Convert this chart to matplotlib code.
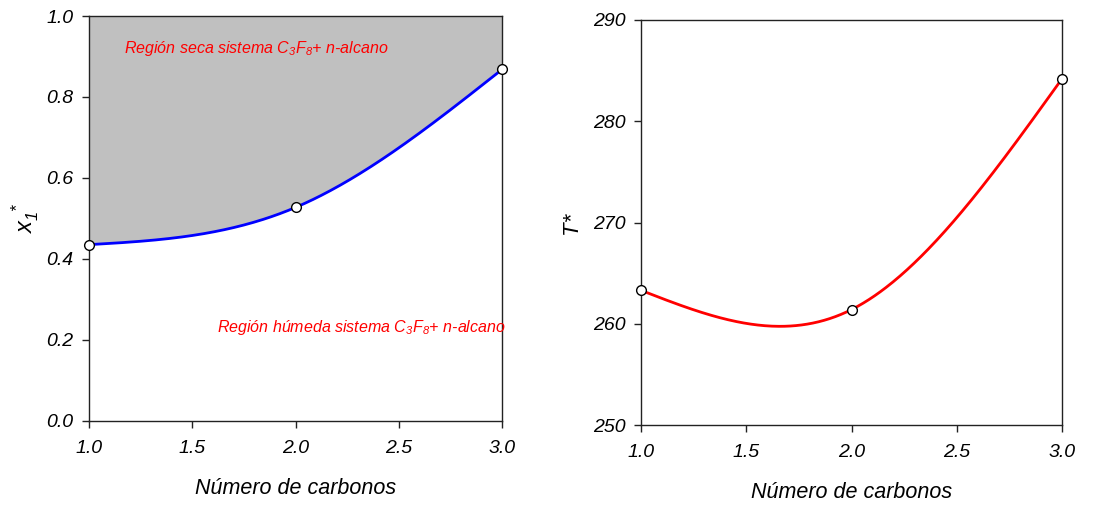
import numpy as np
import matplotlib
matplotlib.use("Agg")
import matplotlib.pyplot as plt

plt.rcParams['font.family'] = ['Liberation Sans', 'DejaVu Sans']
plt.rcParams['mathtext.fontset'] = 'custom'
plt.rcParams['mathtext.rm'] = 'Liberation Sans:italic'
plt.rcParams['mathtext.it'] = 'Liberation Sans:italic'
plt.rcParams['mathtext.bf'] = 'Liberation Sans:italic:bold'

# Data
carbonos = [1.0, 2.0, 3.0]
x1_star = [0.435, 0.527, 0.868]
T_star = [263.3, 261.4, 284.2]
x_ticks = [1.0, 1.5, 2.0, 2.5, 3.0]
x1_ticks = [0.0, 0.2, 0.4, 0.6, 0.8, 1.0]
T_ticks = [250, 260, 270, 280, 290]


def natural_spline(x, y, n=300):
    """Natural cubic spline through the given points, evaluated on a fine grid."""
    x = np.asarray(x, float)
    y = np.asarray(y, float)
    k = len(x)
    h = np.diff(x)
    A = np.zeros((k, k))
    b = np.zeros(k)
    A[0, 0] = A[-1, -1] = 1.0
    for i in range(1, k - 1):
        A[i, i - 1] = h[i - 1]
        A[i, i] = 2 * (h[i - 1] + h[i])
        A[i, i + 1] = h[i]
        b[i] = 6 * ((y[i + 1] - y[i]) / h[i] - (y[i] - y[i - 1]) / h[i - 1])
    M = np.linalg.solve(A, b)
    xs = np.linspace(x[0], x[-1], n)
    ys = np.empty_like(xs)
    for j, xv in enumerate(xs):
        i = min(np.searchsorted(x, xv, side='right') - 1, k - 2)
        t0 = x[i + 1] - xv
        t1 = xv - x[i]
        hi = h[i]
        ys[j] = (M[i] * t0**3 / (6 * hi) + M[i + 1] * t1**3 / (6 * hi)
                 + (y[i] / hi - M[i] * hi / 6) * t0
                 + (y[i + 1] / hi - M[i + 1] * hi / 6) * t1)
    return xs, ys


fig = plt.figure(figsize=(11.01, 5.05), dpi=100)
ax1 = fig.add_axes([0.0808, 0.1669, 0.3752, 0.8014])
ax2 = fig.add_axes([0.5822, 0.1584, 0.3824, 0.8020])

label_font = dict(fontsize=15.5, fontstyle='italic')


def style_axes(ax):
    for s in ax.spines.values():
        s.set_linewidth(1.0)
        s.set_color('#222222')
    ax.tick_params(direction='out', length=5, width=1, color='#222222',
                   labelsize=14)
    ax.tick_params(axis='x', pad=9)
    ax.tick_params(axis='y', pad=6)
    for lab in ax.get_xticklabels() + ax.get_yticklabels():
        lab.set_fontstyle('italic')


# Left panel: x1*
xs, ys = natural_spline(carbonos, x1_star)
ax1.fill_between(xs, ys, 1.0, color='#C0C0C0', lw=0, zorder=1)
ax1.plot(xs, ys, color='#0000FF', lw=2.0, zorder=3)
ax1.plot(carbonos, x1_star, 'o', ms=7, mfc='white', mec='black', mew=1.0,
         zorder=4, clip_on=False)
ax1.set_xlim(1.0, 3.0)
ax1.set_ylim(0.0, 1.0)
ax1.set_xticks(x_ticks)
ax1.set_xticklabels([f"{v:.1f}" for v in x_ticks])
ax1.set_yticks(x1_ticks)
ax1.set_yticklabels([f"{v:.1f}" for v in x1_ticks])
style_axes(ax1)
ax1.set_xlabel('Número de carbonos', **label_font, labelpad=15)
ax1.set_ylabel(r'$x_1^{\ *}$', fontsize=17, labelpad=4)
ax1.text(1.81, 0.92, 'Región seca sistema C$_3$F$_8$+ n-alcano',
         color='#FF0000', fontsize=11.5, fontstyle='italic',
         ha='center', va='center', zorder=5)
ax1.text(2.32, 0.231, 'Región húmeda sistema C$_3$F$_8$+ n-alcano',
         color='#FF0000', fontsize=11.5, fontstyle='italic',
         ha='center', va='center', zorder=5)

# Right panel: T*
xs, ts = natural_spline(carbonos, T_star)
ax2.plot(xs, ts, color='#FF0000', lw=2.0, zorder=3)
ax2.plot(carbonos, T_star, 'o', ms=7, mfc='white', mec='black', mew=1.0,
         zorder=4, clip_on=False)
ax2.set_xlim(1.0, 3.0)
ax2.set_ylim(250, 290)
ax2.set_xticks(x_ticks)
ax2.set_xticklabels([f"{v:.1f}" for v in x_ticks])
ax2.set_yticks(T_ticks)
ax2.set_yticklabels([str(v) for v in T_ticks])
style_axes(ax2)
ax2.set_xlabel('Número de carbonos', **label_font, labelpad=15)
ax2.set_ylabel('T*', fontsize=16, fontstyle='italic', labelpad=8)

fig.savefig('out.png', dpi=100)
